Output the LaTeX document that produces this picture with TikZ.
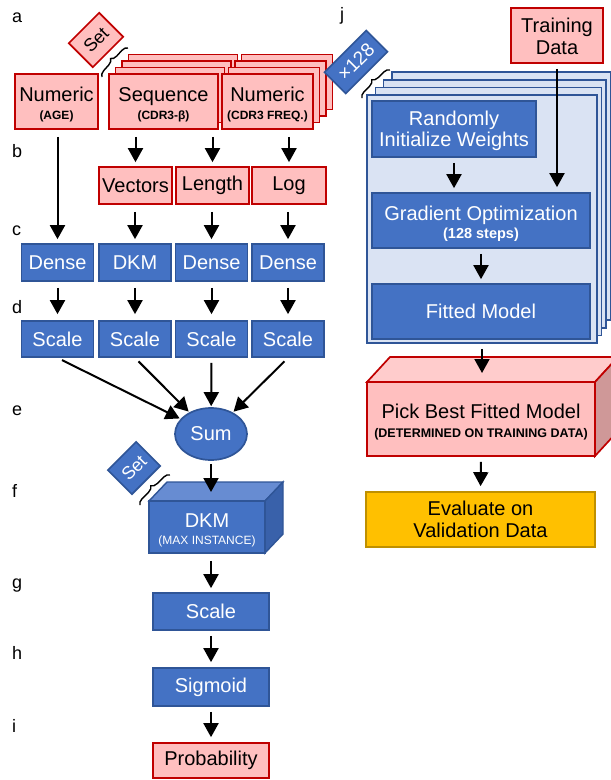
\documentclass[tikz,border=0pt]{standalone}
\usepackage{fontspec}
\setmainfont{Liberation Sans}
\usetikzlibrary{arrows.meta,decorations.pathreplacing,shapes.geometric}
\definecolor{redfill}{HTML}{FFBFBF}
\definecolor{redtop}{HTML}{FFCCCC}
\definecolor{redside}{HTML}{CF9898}
\definecolor{redline}{HTML}{C00000}
\definecolor{bluefill}{HTML}{4472C4}
\definecolor{bluetop}{HTML}{678CD2}
\definecolor{blueside}{HTML}{3961AA}
\definecolor{blueline}{HTML}{2F5597}
\definecolor{panelfill}{HTML}{DAE3F3}
\definecolor{goldfill}{HTML}{FFC000}
\definecolor{goldline}{HTML}{BF9000}
% small bold caption line under a box title
\newcommand{\capnote}[1]{{\fontsize{12}{14}\selectfont\bfseries #1}}
% extra head room on the first line of a two-line box
\newcommand{\headroom}{\rule{0pt}{20pt}}
\begin{document}
\begin{tikzpicture}[x=1pt,y=1pt,
  box/.style={draw, line width=1.7, inner sep=0pt, align=center,
    font=\fontsize{20}{22}\selectfont},
  redbox/.style={box, fill=redfill, draw=redline, text=black},
  bluebox/.style={box, fill=bluefill, draw=blueline, text=white},
  goldbox/.style={box, fill=goldfill, draw=goldline, text=black},
  redlayer/.style={draw=redline, fill=redfill, line width=1.7},
  panellayer/.style={draw=blueline, fill=panelfill, line width=1.5},
  panelbox/.style={draw=blueline, fill=panelfill, line width=1.5, inner sep=0pt},
  tagred/.style={redbox, rotate=45, font=\fontsize{18}{20}\selectfont},
  tagblue/.style={bluebox, rotate=45, font=\fontsize{18}{20}\selectfont},
  bracket/.style={decorate, decoration={brace, amplitude=6pt}, line width=1.4, black},
  arr/.style={-{Triangle[length=14pt,width=15pt]}, line width=2, black,
    shorten <=7pt, shorten >=4pt},
  letter/.style={anchor=base west, inner sep=0pt, font=\fontsize{18}{20}\selectfont},
  rw/.style={minimum width=72, minimum height=37}
]
\useasboundingbox (0,0) rectangle (611,-780);
\clip (0,0) rectangle (611,-780);

% ---------- row letters ----------
\foreach \l/\yb in {a/22,b/157,c/235,d/313,e/415,f/497,g/588,h/659,i/732}
  \node[letter] (lbl\l) at (12,-\yb) {\l};
\node[letter] (lblj) at (340,-20) {j};

% ---------- row a: inputs ----------
\node[redbox, minimum width=83, minimum height=55] (age) at (56.5,-101.5)
  {\headroom Numeric\\[-4pt]\capnote{(AGE)}};

\foreach \k in {3,2,1}
  \draw[redlayer, shift={({6.5*\k},{6.5*\k})}] (109,-74) rectangle (218,-129);
\node[redbox, minimum width=109, minimum height=55] (seq) at (163.5,-101.5)
  {\headroom Sequence\\[-4pt]\capnote{(CDR3-β)}};

\foreach \k in {3,2,1}
  \draw[redlayer, shift={({6.5*\k},{6.5*\k})}] (222,-74) rectangle (313,-129);
\node[redbox, minimum width=91, minimum height=55] (freq) at (267.5,-101.5)
  {\headroom Numeric\\[-4pt]\capnote{(CDR3 FREQ.)}};

% set tag over the sequence inputs
\node[tagred, minimum width=43, minimum height=34] (settag) at (96,-40) {Set};
\draw[bracket] (102,-77) -- (128,-48);

% ---------- row b: preprocessing ----------
\node[redbox, minimum width=73, minimum height=37] (vec) at (135.5,-185.5) {Vectors};
\node[redbox, minimum width=73, minimum height=37] (len) at (212.5,-185.5) {Length};
\node[redbox, minimum width=74, minimum height=37] (lg) at (289,-185.5) {Log};

% ---------- row c: layers ----------
\node[bluebox, rw] (c1) at (57.5,-262.5) {Dense};
\node[bluebox, rw] (c2) at (135,-262.5) {DKM};
\node[bluebox, rw] (c3) at (211.5,-262.5) {Dense};
\node[bluebox, rw] (c4) at (288,-262.5) {Dense};

% ---------- row d: scaling ----------
\node[bluebox, rw, minimum height=36] (d1) at (57.5,-339) {Scale};
\node[bluebox, rw, minimum height=36] (d2) at (135,-339) {Scale};
\node[bluebox, rw, minimum height=36] (d3) at (211.5,-339) {Scale};
\node[bluebox, rw, minimum height=36] (d4) at (288,-339) {Scale};

% ---------- row e: sum ----------
\node[ellipse, draw=blueline, fill=bluefill, line width=1.7, text=white,
  minimum width=72, minimum height=52, inner sep=0pt,
  font=\fontsize{20}{22}\selectfont] (sum) at (211,-434) {Sum};

% ---------- row f: DKM block ----------
\draw[draw=blueline, fill=bluetop, line width=1.4]
  (149,-501) -- (167,-482) -- (283,-482) -- (265,-501) -- cycle;
\draw[draw=blueline, fill=blueside, line width=1.4]
  (265,-501) -- (283,-482) -- (283,-534) -- (265,-553) -- cycle;
\node[bluebox, minimum width=116, minimum height=52] (dkm) at (207,-527)
  {\headroom DKM\\[-5pt]{\fontsize{12}{14}\selectfont (MAX INSTANCE)}};
\coordinate (dkmtop) at (211,-492);
\node[tagblue, minimum width=40, minimum height=34] (settagb) at (134,-468) {Set};
\draw[bracket] (140,-505) -- (170,-475);

% ---------- rows g-i ----------
\node[bluebox, minimum width=116, minimum height=37] (scaleg) at (211,-611.5) {Scale};
\node[bluebox, minimum width=116, minimum height=38] (sig) at (211,-687) {Sigmoid};
\node[redbox, minimum width=116, minimum height=35] (prob) at (211,-760.5) {Probability};

% ---------- left arrows ----------
\draw[arr] (c1.north |- age.south) -- (c1.north);
\draw[arr] (vec.north |- seq.south) -- (vec.north);
\draw[arr] (len.north |- freq.south) -- (len.north);
\draw[arr] (lg.north |- freq.south) -- (lg.north);
\draw[arr] (c2.north |- vec.south) -- (c2.north);
\draw[arr] (c3.north |- len.south) -- (c3.north);
\draw[arr] (c4.north |- lg.south) -- (c4.north);
\foreach \n in {1,2,3,4}
  \draw[arr, shorten <=6pt, shorten >=6pt] (d\n.north |- c\n.south) -- (d\n.north);
\draw[arr, shorten <=5pt, shorten >=1pt] (d1.south) -- (sum);
\draw[arr, shorten <=5pt, shorten >=1pt] (d2.south) -- (sum);
\draw[arr, shorten <=5pt, shorten >=1pt] (d3.south) -- (sum);
\draw[arr, shorten <=5pt, shorten >=1pt] (d4.south) -- (sum);
\draw[arr, shorten <=3pt, shorten >=0pt] (sum.south) -- (dkmtop);
\draw[arr] (scaleg.north |- dkm.south) -- (scaleg.north);
\draw[arr, shorten <=5pt, shorten >=5pt] (scaleg.south) -- (sig.north);
\draw[arr, shorten <=5pt, shorten >=5pt] (sig.south) -- (prob.north);

% ---------- right: training loop ----------
\foreach \k in {3,2,1}
  \draw[panellayer] ({367+8.3*\k},{-95+7.6*\k}) rectangle ({597+4.6*\k},{-343+7.6*\k});
\node[panelbox, minimum width=230, minimum height=248] (panel) at (482,-219) {};

\node[redbox, minimum width=92, minimum height=55] (train) at (557,-35.5)
  {\rule{0pt}{17pt}Training\\Data};

\node[bluebox, minimum width=164, minimum height=56] (rand) at (454,-129)
  {\rule{0pt}{18pt}Randomly\\[-1pt]Initialize Weights};
\node[bluebox, minimum width=218, minimum height=55] (grad) at (481,-220.5)
  {\headroom Gradient Optimization\\[-4pt]{\fontsize{14.5}{16}\selectfont\bfseries (128 steps)}};
\node[bluebox, minimum width=218, minimum height=55] (fit) at (481,-311.5)
  {Fitted Model};

\node[tagblue, minimum width=59, minimum height=30, font=\fontsize{19}{21}\selectfont]
  (reptag) at (356,-62) {×128};
\draw[bracket] (362,-98) -- (390,-70);

% pick-best block
\draw[draw=redline, fill=redtop, line width=1.7]
  (367,-382) -- (390,-357) -- (618,-357) -- (595,-382) -- cycle;
\draw[draw=redline, fill=redside, line width=1.7]
  (595,-382) -- (618,-357) -- (618,-431) -- (595,-456) -- cycle;
\node[redbox, minimum width=228, minimum height=74] (pick) at (481,-419)
  {\headroom Pick Best Fitted Model\\[-3pt]{\fontsize{12.5}{14}\selectfont\bfseries (DETERMINED ON TRAINING DATA)}};
\coordinate (picktop) at (482,-373);

\node[goldbox, minimum width=229, minimum height=55] (eval) at (480.5,-519.5)
  {Evaluate on\\Validation Data};

% right arrows
\draw[arr, shorten <=5pt, shorten >=4pt] (rand.south) -- (rand.south |- grad.north);
\draw[arr, shorten <=5pt, shorten >=5pt] (train.south) -- (train.south |- grad.north);
\draw[arr, shorten <=5pt, shorten >=4pt] (grad.south) -- (fit.north);
\draw[arr, shorten <=5pt, shorten >=0pt] (panel.south) -- (picktop);
\draw[arr, shorten <=5pt, shorten >=5pt] (pick.south) -- (eval.north);
\end{tikzpicture}
\end{document}
